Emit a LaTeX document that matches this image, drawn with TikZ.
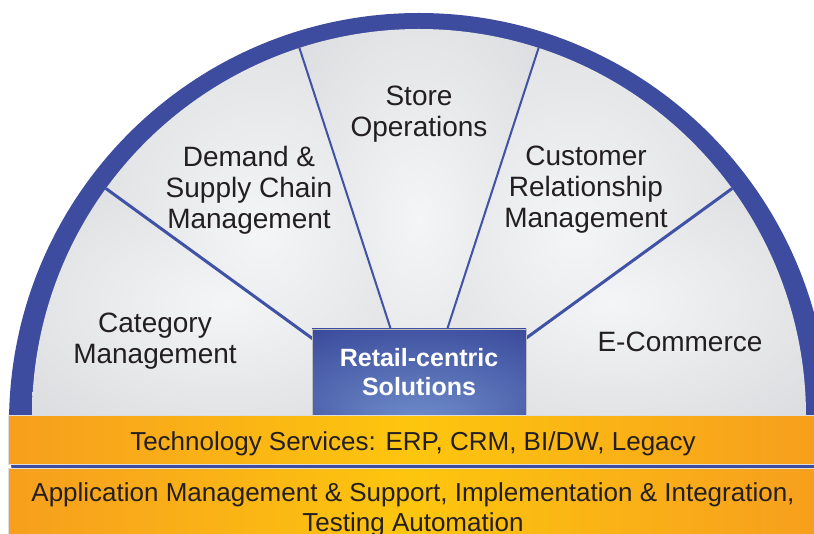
\documentclass[tikz,border=0pt]{standalone}
\usepackage{fontspec}
\setmainfont{Liberation Sans}
\definecolor{bandblue}{HTML}{3E4C9F}
\definecolor{divblue}{HTML}{4052A6}
\definecolor{boxdark}{HTML}{2C3990}
\definecolor{boxlight}{HTML}{7290CC}
\definecolor{secin}{HTML}{F4F5F6}
\definecolor{secout}{HTML}{D1D2D5}
\definecolor{orng}{HTML}{F08222}
\definecolor{orng2}{HTML}{F38C21}
\definecolor{orng3}{HTML}{F8A61B}
\definecolor{yell}{HTML}{FDC60E}
\definecolor{txt}{HTML}{231F20}
\pgfdeclareradialshading{sectorshade}{\pgfpoint{0bp}{0bp}}{color(0bp)=(secin); color(50bp)=(secout)}
\pgfdeclareradialshading{boxshade}{\pgfpoint{0bp}{-32bp}}{color(0bp)=(boxlight); color(50bp)=(boxdark)}
\pgfdeclarehorizontalshading{barshade}{100bp}{color(0bp)=(orng); color(12bp)=(orng2); color(30bp)=(orng3); color(50bp)=(yell); color(70bp)=(orng3); color(88bp)=(orng2); color(100bp)=(orng)}
\tikzset{
  lbl/.style={text=txt, font=\fontsize{28}{31}\selectfont, align=center, inner sep=0pt},
  barlbl/.style={text=txt, font=\fontsize{26}{30}\selectfont, align=center, inner sep=0pt},
  barbox/.style={shading=barshade, draw=black!13, line width=1pt, inner sep=0pt},
  centerbox/.style={shading=boxshade, draw=black!25, line width=0.6pt, inner sep=0pt,
    minimum width=214pt, minimum height=87pt, text=white, align=center,
    font=\bfseries\fontsize{25}{29}\selectfont},
  divider/.style={divblue}
}
\begin{document}
\begin{tikzpicture}[x=1pt,y=1pt]
\useasboundingbox (0,0) rectangle (814,533);
\clip (0,0) rectangle (814,533);
\fill[white] (0,0) rectangle (814,533);
\coordinate (c) at (419,117);
\coordinate (oc) at (419,110);
% outer blue band
\fill[bandblue] (oc) circle[radius=410pt];
% sectors
\foreach \a in {0,36,72,108,144} {
  \shade[shading=sectorshade] (c) -- ++(\a:387pt) arc[start angle=\a, delta angle=36, radius=387pt] -- cycle;
}
% rim points
\path (c) ++(36:387pt) coordinate (r1);
\path (c) ++(72:387pt) coordinate (r2);
\path (c) ++(108:387pt) coordinate (r3);
\path (c) ++(144:387pt) coordinate (r4);
\draw[divider, line width=3pt] (c) -- (r1);
\draw[divider, line width=2pt] (c) -- (r2);
\draw[divider, line width=2pt] (c) -- (r3);
\draw[divider, line width=3pt] (c) -- (r4);
% centre box
\node[centerbox] (box) at (419,160.5) {Retail-centric\\Solutions};
% sector labels
\node[lbl] (store) at (419,418.7) {Store\\Operations};
\node[lbl] (demand) at (249,343.2) {Demand \&\\Supply Chain\\Management};
\node[lbl] (crm) at (586,343.5) {Customer\\Relationship\\Management};
\node[lbl] (cat) at (155,191.7) {Category\\Management};
\node[lbl, anchor=base] (ecom) at (680,181) {E-Commerce};
% bars
\node[barbox, minimum width=810pt, minimum height=49.5pt] (bar1) at (413,92.75) {};
\node[barbox, minimum width=810pt, minimum height=76pt] (bar2) at (413,26) {};
\node[barlbl, anchor=base] (t1) at (413,82) {Technology Services: ERP, CRM, BI/DW, Legacy};
\node[barlbl] (t2) at (413,22.8) {Application Management \& Support, Implementation \& Integration,\\Testing Automation};
\end{tikzpicture}
\end{document}
